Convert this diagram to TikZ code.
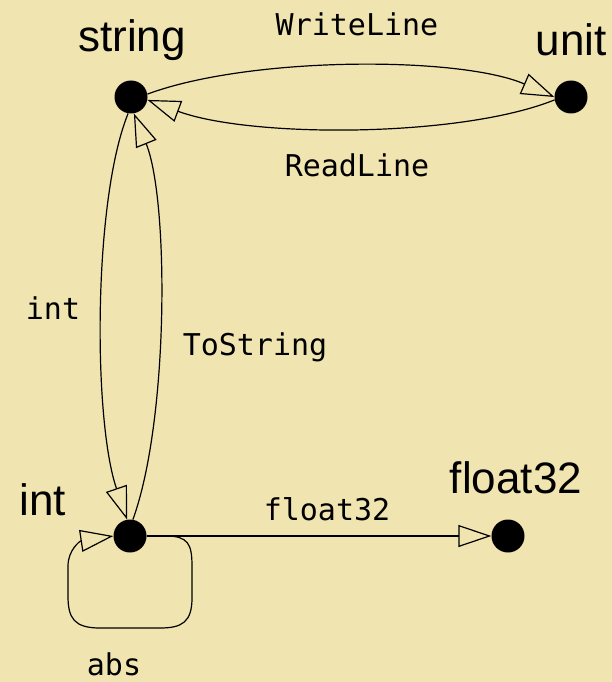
\documentclass[tikz,border=0pt]{standalone}
\usepackage{fontspec}
\setmainfont{Liberation Sans}
\newfontfamily\monofont{DejaVu Sans Mono}
\usetikzlibrary{arrows.meta}
\definecolor{bg}{RGB}{240,228,176}
\tikzset{
  dot/.style={circle,fill=black,inner sep=0pt,minimum size=33pt},
  typelabel/.style={font=\fontsize{44}{50}\selectfont},
  edgelabel/.style={font=\monofont\fontsize{30}{34}\selectfont},
  edge/.style={line width=1.2pt,-{Triangle[open,length=33pt,width=22pt,line width=1.2pt]}},
}
\begin{document}
\begin{tikzpicture}[x=1pt,y=-1pt]
\fill[bg] (0,0) rectangle (612,682);
\useasboundingbox (0,0) rectangle (612,682);
\node[dot] (s) at (131,97) {};
\node[dot] (u) at (571,97) {};
\node[dot] (i) at (130,536) {};
\node[dot] (f) at (508,536) {};
\node[typelabel] (sL) at (132,40) {string};
\node[typelabel] (uL) at (571,40) {unit};
\node[typelabel] (iL) at (43,500) {int};
\node[typelabel] (fL) at (516,478) {float32};
\node[edgelabel] (wl) at (357,24) {WriteLine};
\node[edgelabel] (rl) at (357,165) {ReadLine};
\node[edgelabel] (il) at (53,308) {int};
\node[edgelabel] (ts) at (255,347) {ToString};
\node[edgelabel] (fl) at (327,509) {float32};
\node[edgelabel] (ab) at (114,664) {abs};
\draw[edge] (s.10) .. controls (250,56) and (460,56) .. (u.180);
\draw[edge] (u.190) .. controls (460,138) and (250,138) .. (s.-10);
\draw[edge] (s.-100) .. controls (93,200) and (93,420) .. (i.100);
\draw[edge] (i.80) .. controls (169,420) and (169,200) .. (s.-80);
\draw[edge] (i.east) -- (f.west);
\draw[edge] (i.east) -- (166,536) .. controls (188,536) and (192,544) .. (192,566)
  -- (192,598) .. controls (192,622) and (182,628) .. (160,628)
  -- (100,628) .. controls (74,628) and (68,618) .. (68,596)
  -- (68,566) .. controls (68,550) and (80,541) .. (i.west);
\end{tikzpicture}
\end{document}
